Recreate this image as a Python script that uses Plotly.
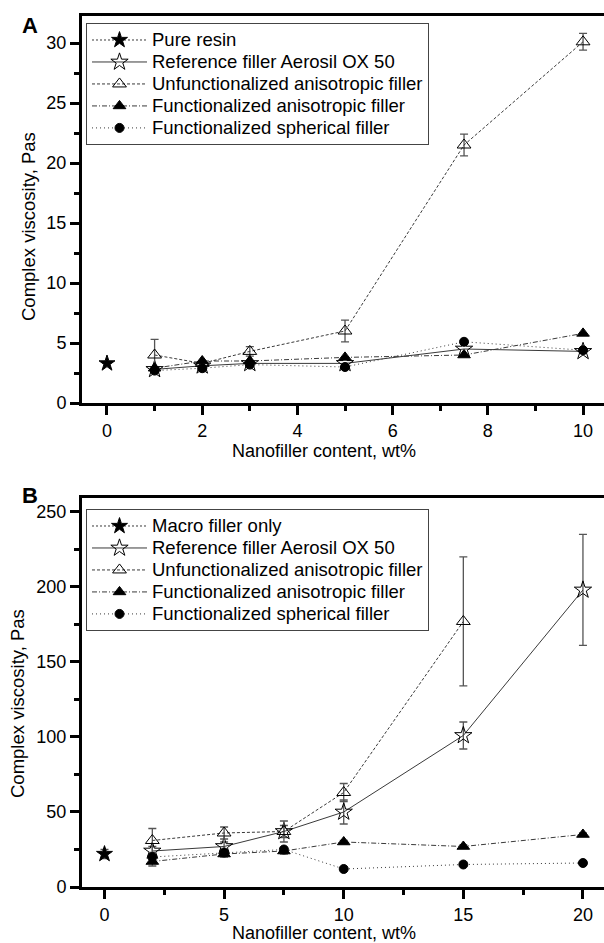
import plotly.graph_objects as go

# ---------- Panel A data ----------
a_x0 = [0]
a_pure = [3.3]
a_x = [1, 2, 3, 5, 7.5, 10]
a_ref = [2.8, 3.1, 3.3, 3.3, 4.5, 4.3]
a_unf = [4.0, 3.3, 4.3, 6.0, 21.5, 30.1]
a_unf_err = [1.3, 0.2, 0.4, 0.9, 0.9, 0.7]
a_fan = [2.9, 3.5, 3.5, 3.8, 4.0, 5.8]
a_sph = [2.7, 2.9, 3.2, 3.0, 5.1, 4.4]

# ---------- Panel B data ----------
b_x0 = [0]
b_macro = [22]
b_macro_err = [3]
b_x = [2, 5, 7.5, 10, 15, 20]
b_ref = [24, 27, 37, 50, 101, 198]
b_ref_err = [3, 3, 4, 8, 9, 37]
b_x_unf = [2, 5, 7.5, 10, 15]
b_unf = [31, 36, 37, 63, 177]
b_unf_err = [8, 4, 7, 6, 43]
b_fan = [17, 22, 24, 30, 27, 35]
b_fan_err = [3, 2, 2, 1, 1, 1]
b_sph = [20, 23, 25, 12, 15, 16]

names_a = ["Pure resin", "Reference filler Aerosil OX 50", "Unfunctionalized anisotropic filler",
           "Functionalized anisotropic filler", "Functionalized spherical filler"]
names_b = ["Macro filler only", "Reference filler Aerosil OX 50", "Unfunctionalized anisotropic filler",
           "Functionalized anisotropic filler", "Functionalized spherical filler"]
x_title = "Nanofiller content, wt%"
y_title = "Complex viscosity, Pas"

LC = "#3a3a3a"
FONT = "Liberation Sans, Arial, sans-serif"
LEG_TXT = 18.5

def lab(s):
    return f'<span style="font-size:{LEG_TXT}px">{s}</span>'

def err(v):
    return dict(type="data", array=v, visible=True, color="#555", thickness=1.3, width=4)

def tr(x, y, name, symbol, dash, xa, ya, legend, e=None, size=11, width=1):
    return go.Scatter(x=x, y=y, name=lab(name), mode="lines+markers",
                      line=dict(color=LC, width=width, dash=dash),
                      marker=dict(symbol=symbol, size=size, color="black",
                                  line=dict(color="black", width=1)),
                      error_y=err(e) if e else None,
                      xaxis=xa, yaxis=ya, legend=legend)

D_PURE = "2px,2px"
D_UNF = "3px,2px"
D_FAN = "5px,2px,1px,2px"
D_SPH = "1px,3px"

fig = go.Figure()
# Panel A
fig.add_trace(tr(a_x0, a_pure, names_a[0], "star", D_PURE, "x", "y", "legend", size=12))
fig.add_trace(tr(a_x, a_ref, names_a[1], "star-open", "solid", "x", "y", "legend", size=13))
fig.add_trace(tr(a_x, a_unf, names_a[2], "triangle-up-open", D_UNF, "x", "y", "legend", e=a_unf_err, size=12))
fig.add_trace(tr(a_x, a_fan, names_a[3], "triangle-up", D_FAN, "x", "y", "legend", size=11))
fig.add_trace(tr(a_x, a_sph, names_a[4], "circle", D_SPH, "x", "y", "legend", size=9))
# Panel B
fig.add_trace(tr(b_x0, b_macro, names_b[0], "star", D_PURE, "x2", "y2", "legend2", e=b_macro_err, size=12))
fig.add_trace(tr(b_x, b_ref, names_b[1], "star-open", "solid", "x2", "y2", "legend2", e=b_ref_err, size=13))
fig.add_trace(tr(b_x_unf, b_unf, names_b[2], "triangle-up-open", D_UNF, "x2", "y2", "legend2", e=b_unf_err, size=12))
fig.add_trace(tr(b_x, b_fan, names_b[3], "triangle-up", D_FAN, "x2", "y2", "legend2", e=b_fan_err, size=11))
fig.add_trace(tr(b_x, b_sph, names_b[4], "circle", D_SPH, "x2", "y2", "legend2", size=9))

W, H = 604, 943
def px(x):
    return x / W
def py(y):
    return 1 - y / H

TF = 18
xaxis_common = dict(showline=True, mirror=True, linecolor="black", linewidth=3,
                    ticks="outside", ticklen=9, tickwidth=2.5, tickcolor="black",
                    showgrid=False, zeroline=False, automargin=False,
                    tickfont=dict(size=TF, color="black", family=FONT))
yaxis_common = dict(xaxis_common, mirror=False)
minor_common = dict(ticks="outside", ticklen=5, tickwidth=2.5, tickcolor="black")

LEG = dict(bordercolor="#444", borderwidth=1, bgcolor="white", xanchor="left", yanchor="top",
           font=dict(size=14.6, color="black", family=FONT), tracegroupgap=0, itemwidth=55)

def ann(text, x, y, size, angle=0, bold=False):
    return dict(text=f"<b>{text}</b>" if bold else text, x=px(x), y=py(y), xref="paper", yref="paper",
                xanchor="center", yanchor="middle", showarrow=False, textangle=angle,
                font=dict(size=size, family=FONT, color="black"))

fig.update_layout(
    width=W, height=H, margin=dict(l=0, r=0, t=0, b=0),
    paper_bgcolor="white", plot_bgcolor="white",
    font=dict(family=FONT, color="black"),
    xaxis=dict(domain=[px(82), 1.0], anchor="y", range=[-0.525, 10.44],
               dtick=2, tick0=0, minor=dict(dtick=1, **minor_common), **xaxis_common),
    yaxis=dict(domain=[py(403), py(16)], anchor="x", range=[0, 32.25],
               dtick=5, minor=dict(dtick=2.5, **minor_common), **yaxis_common),
    xaxis2=dict(domain=[px(82), 1.0], anchor="y2", range=[-0.94, 20.88],
                dtick=5, tick0=0, minor=dict(dtick=2.5, **minor_common), **xaxis_common),
    yaxis2=dict(domain=[py(887), py(498)], anchor="x2", range=[0, 259.3],
                dtick=50, minor=dict(dtick=25, **minor_common), **yaxis_common),
    legend=dict(x=px(86), y=py(23), **LEG),
    legend2=dict(x=px(86), y=py(509), **LEG),
    annotations=[
        ann("A", 30, 25, 22, bold=True),
        ann("B", 30, 495, 22, bold=True),
        ann(y_title, 28, 227, 18.5, angle=-90),
        ann(y_title, 17, 704, 18.5, angle=-90),
        ann(x_title, 324, 451, 18),
        ann(x_title, 324, 933, 18),
    ],
)

fig.write_html("out.html", config={"displayModeBar": False},
               post_script="document.body.style.margin='0';document.body.style.overflow='hidden';")
